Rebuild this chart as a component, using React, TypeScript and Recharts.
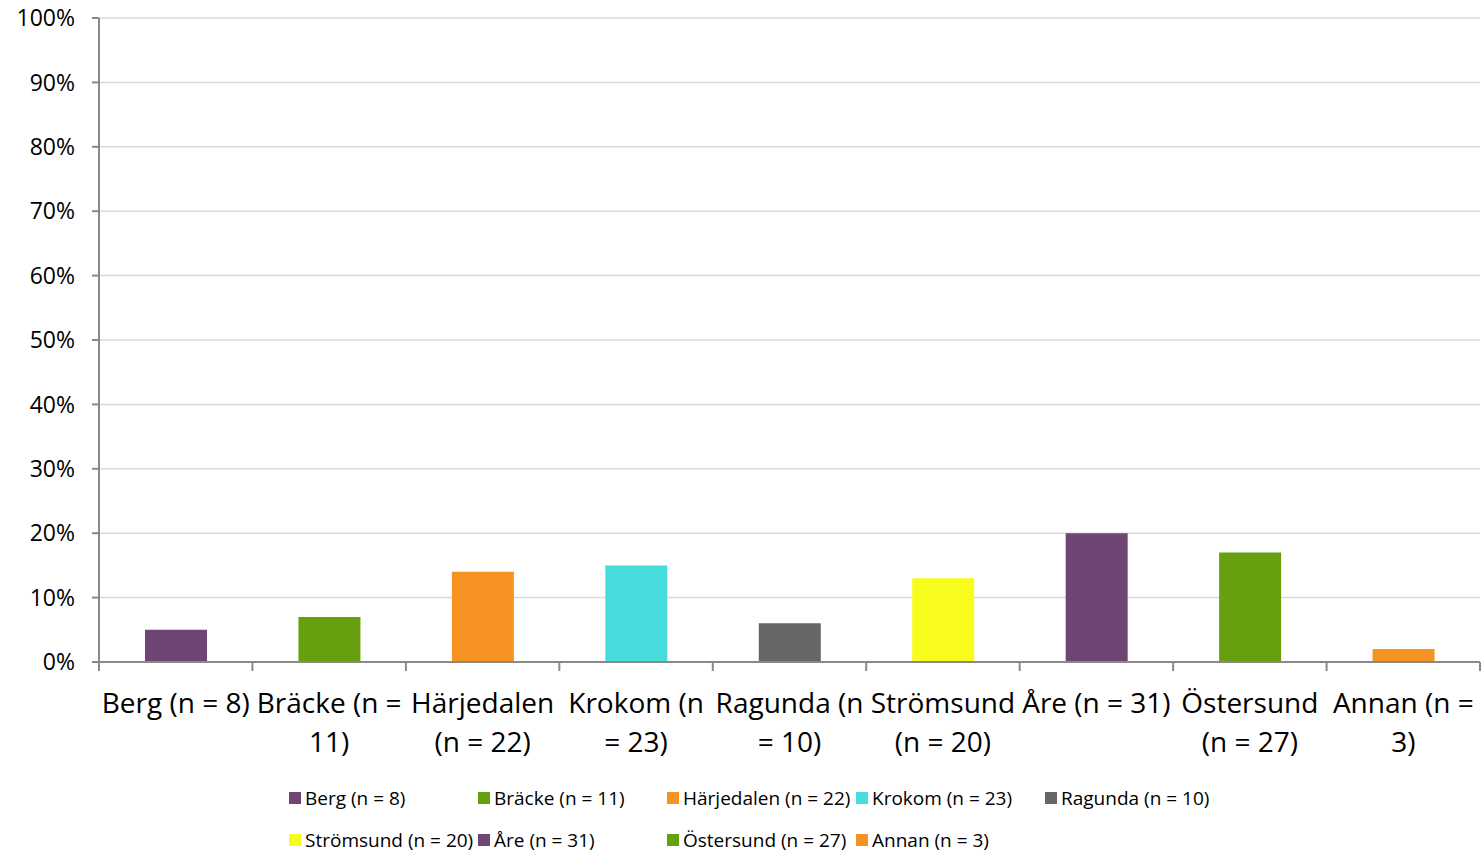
import React from 'react';
import { BarChart, Bar, XAxis, YAxis, CartesianGrid, Cell } from 'recharts';

const categories = ['Berg (n = 8)', 'Bräcke (n = 11)', 'Härjedalen (n = 22)', 'Krokom (n = 23)', 'Ragunda (n = 10)', 'Strömsund (n = 20)', 'Åre (n = 31)', 'Östersund (n = 27)', 'Annan (n = 3)'];
const tickLines = [
  ['Berg (n = 8)'],
  ['Bräcke (n =', '11)'],
  ['Härjedalen', '(n = 22)'],
  ['Krokom (n', '= 23)'],
  ['Ragunda (n', '= 10)'],
  ['Strömsund', '(n = 20)'],
  ['Åre (n = 31)'],
  ['Östersund', '(n = 27)'],
  ['Annan (n =', '3)'],
];
const values = [5, 7, 14, 15, 6, 13, 20, 17, 2];
const colors = ['#6F4573', '#66A00E', '#F69322', '#46DCDC', '#666666', '#F8FC1C', '#6F4573', '#66A00E', '#F69322'];
const yTicks = [0, 10, 20, 30, 40, 50, 60, 70, 80, 90, 100];

const data = categories.map((name, i) => ({ name, value: values[i], idx: i }));

const FONT = '"Open Sans", "Liberation Sans", sans-serif';
const AXIS = '#898989';

// category label + tick marks at the band edges (Excel-style)
function CategoryTick(props: any) {
  const { x, y, index, payload } = props;
  const half = payload?.offset ?? 0;
  const lines = tickLines[index] || [];
  return (
    <g>
      <line x1={x - half} x2={x - half} y1={y} y2={y + 9} stroke={AXIS} strokeWidth={2} />
      {index === categories.length - 1 && (
        <line x1={x + half} x2={x + half} y1={y} y2={y + 9} stroke={AXIS} strokeWidth={2} />
      )}
      {lines.map((ln, i) => (
        <text key={i} x={x} y={y + 51 + i * 39} textAnchor="middle" fontSize={28} fill="#000" fontFamily={FONT}>
          {ln}
        </text>
      ))}
    </g>
  );
}

function LegendBox() {
  const rows = [categories.slice(0, 5), categories.slice(5)];
  return (
    <div style={{ position: 'absolute', left: 289, top: 777, fontFamily: FONT, fontSize: 19, color: '#000' }}>
      {rows.map((row, r) => (
        <div key={r} style={{ display: 'flex', height: 42, alignItems: 'center' }}>
          {row.map((name, i) => {
            const k = r * 5 + i;
            return (
              <div key={name} style={{ width: 189, display: 'flex', alignItems: 'center', whiteSpace: 'nowrap' }}>
                <span style={{ display: 'inline-block', width: 12, height: 12, background: colors[k], marginRight: 4 }} />
                <span>{name}</span>
              </div>
            );
          })}
        </div>
      ))}
    </div>
  );
}

export default function App() {
  return (
    <div style={{ position: 'absolute', left: 0, top: 0, width: 1482, height: 853, background: '#fff' }}>
      <BarChart width={1482} height={853} data={data} margin={{ top: 18, right: 2, left: 0, bottom: 81 }}>
        <CartesianGrid vertical={false} stroke="#D9D9D9" strokeWidth={1.5} />
        <XAxis dataKey="name" tick={<CategoryTick />} tickLine={false} tickSize={0} tickMargin={0} axisLine={{ stroke: AXIS, strokeWidth: 2 }} interval={0} height={110} />
        <YAxis domain={[0, 100]} ticks={yTicks} width={99} tickFormatter={(v) => `${v}%`} tick={{ fill: '#000', fontSize: 23, fontFamily: FONT }} tickSize={7} tickMargin={17} axisLine={{ stroke: AXIS, strokeWidth: 2 }} tickLine={{ stroke: AXIS, strokeWidth: 2 }} interval={0} />
        <Bar dataKey="value" barSize={62} isAnimationActive={false}>
          {data.map((d) => (
            <Cell key={d.name} fill={colors[d.idx]} />
          ))}
        </Bar>
      </BarChart>
      <LegendBox />
    </div>
  );
}
